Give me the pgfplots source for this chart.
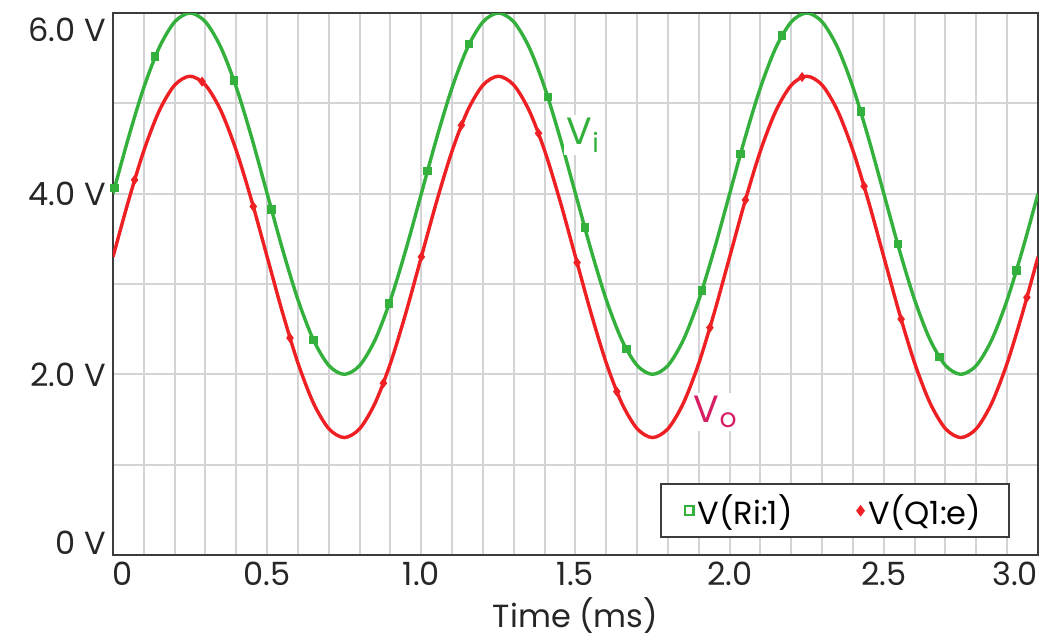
\documentclass[border=0pt]{standalone}
\usepackage{pgfplots}
\pgfplotsset{compat=1.18}
\usepackage{fontspec}
\setmainfont{Poppins}
\definecolor{cgreen}{RGB}{52,176,60}
\definecolor{cred}{RGB}{238,32,36}
\definecolor{cmag}{RGB}{214,30,100}
\definecolor{gridgray}{RGB}{212,212,214}
\definecolor{axisgray}{RGB}{60,60,60}
\begin{document}
\begin{tikzpicture}
\useasboundingbox (-56.5pt,-42pt) rectangle (474.5pt,277.5pt);
\begin{axis}[
  at={(0,0)}, anchor=south west,
  scale only axis, width=462.5pt, height=271pt,
  xmin=0, xmax=3, ymin=0, ymax=6,
  xtick={0,0.5,1,1.5,2,2.5,3},
  xticklabels={\makebox[0pt][l]{0},0.5,1.0,1.5,2.0,2.5,\makebox[0pt][r]{3.0}},
  minor xtick={0.1,0.2,0.3,0.4,0.6,0.7,0.8,0.9,1.1,1.2,1.3,1.4,1.6,1.7,1.8,1.9,2.1,2.2,2.3,2.4,2.6,2.7,2.8,2.9},
  ytick={0,2,4,6},
  yticklabels={\smash{\raisebox{0.5pt}{0 V}},2.0 V,4.0 V,\smash{\raisebox{-14pt}{6.0 V}}},
  minor ytick={1,3,5},
  grid=both,
  grid style={draw=gridgray, line width=1pt},
  minor grid style={draw=gridgray, line width=1pt},
  major grid style={draw=gridgray, line width=1pt},
  axis line style={draw=axisgray, line width=1.3pt},
  tick style={draw=none},
  /pgf/number format/assume math mode=true,
  ticklabel style={font=\fontsize{16}{18}\selectfont, text=black!85},
  xlabel={Time (ms)},
  xlabel style={font=\fontsize{16}{18}\selectfont, text=black!85, yshift=1pt},
  legend columns=2,
  legend style={at={(0.97,0.031)}, anchor=south east, draw=axisgray, line width=1pt,
    fill=white, font=\fontsize{16}{18}\selectfont, inner xsep=12pt, inner ysep=3pt,
    /tikz/every even column/.append style={column sep=30pt}},
  legend cell align=left,
]
% Vi curve
\addplot[cgreen, line width=1.7pt, smooth, forget plot] coordinates {
(0.00,4.000)(0.05,4.618)(0.10,5.176)(0.15,5.618)(0.20,5.902)(0.25,6.000)(0.30,5.902)(0.35,5.618)(0.40,5.176)(0.45,4.618)
(0.50,4.000)(0.55,3.382)(0.60,2.824)(0.65,2.382)(0.70,2.098)(0.75,2.000)(0.80,2.098)(0.85,2.382)(0.90,2.824)(0.95,3.382)
(1.00,4.000)(1.05,4.618)(1.10,5.176)(1.15,5.618)(1.20,5.902)(1.25,6.000)(1.30,5.902)(1.35,5.618)(1.40,5.176)(1.45,4.618)
(1.50,4.000)(1.55,3.382)(1.60,2.824)(1.65,2.382)(1.70,2.098)(1.75,2.000)(1.80,2.098)(1.85,2.382)(1.90,2.824)(1.95,3.382)
(2.00,4.000)(2.05,4.618)(2.10,5.176)(2.15,5.618)(2.20,5.902)(2.25,6.000)(2.30,5.902)(2.35,5.618)(2.40,5.176)(2.45,4.618)
(2.50,4.000)(2.55,3.382)(2.60,2.824)(2.65,2.382)(2.70,2.098)(2.75,2.000)(2.80,2.098)(2.85,2.382)(2.90,2.824)(2.95,3.382)
(3.00,4.000)};
% Vo curve
\addplot[cred, line width=1.7pt, smooth, forget plot] coordinates {
(0.00,3.300)(0.05,3.918)(0.10,4.476)(0.15,4.918)(0.20,5.202)(0.25,5.300)(0.30,5.202)(0.35,4.918)(0.40,4.476)(0.45,3.918)
(0.50,3.300)(0.55,2.682)(0.60,2.124)(0.65,1.682)(0.70,1.398)(0.75,1.300)(0.80,1.398)(0.85,1.682)(0.90,2.124)(0.95,2.682)
(1.00,3.300)(1.05,3.918)(1.10,4.476)(1.15,4.918)(1.20,5.202)(1.25,5.300)(1.30,5.202)(1.35,4.918)(1.40,4.476)(1.45,3.918)
(1.50,3.300)(1.55,2.682)(1.60,2.124)(1.65,1.682)(1.70,1.398)(1.75,1.300)(1.80,1.398)(1.85,1.682)(1.90,2.124)(1.95,2.682)
(2.00,3.300)(2.05,3.918)(2.10,4.476)(2.15,4.918)(2.20,5.202)(2.25,5.300)(2.30,5.202)(2.35,4.918)(2.40,4.476)(2.45,3.918)
(2.50,3.300)(2.55,2.682)(2.60,2.124)(2.65,1.682)(2.70,1.398)(2.75,1.300)(2.80,1.398)(2.85,1.682)(2.90,2.124)(2.95,2.682)
(3.00,3.300)};
% Vi markers
\addplot[only marks, mark=square*, mark size=1.8pt, mark options={draw=cgreen, fill=cgreen, line width=0.6pt},
  legend image post style={mark options={draw=cgreen, fill=white, line width=1.1pt}, mark size=2.2pt}] coordinates {
(0.005,4.063)(0.137,5.517)(0.392,5.255)(0.514,3.824)(0.650,2.382)(0.896,2.784)
(1.020,4.251)(1.155,5.654)(1.410,5.072)(1.530,3.625)(1.665,2.279)(1.910,2.928)
(2.035,4.436)(2.170,5.753)(2.425,4.908)(2.545,3.442)(2.680,2.190)(2.930,3.148)};
\addlegendentry{V(Ri:1)}
% Vo markers
\addplot[only marks, mark=diamond*, mark size=2.2pt, mark options={draw=cred, fill=cred, line width=0.4pt},
  legend image post style={mark options={draw=cred, fill=cred, line width=0.4pt}, mark size=2.6pt}] coordinates {
(0.070,4.152)(0.289,5.240)(0.455,3.858)(0.574,2.403)(0.877,1.903)
(1.000,3.300)(1.130,4.758)(1.380,4.669)(1.505,3.237)(1.634,1.809)(1.936,2.517)
(2.051,3.930)(2.235,5.291)(2.436,4.083)(2.556,2.611)(2.964,2.851)};
\addlegendentry{V(Q1:e)}
\node[text=cgreen, fill=white, inner sep=1.5pt, font=\fontsize{19}{21}\selectfont] at (axis cs:1.525,4.65) {V\textsubscript{i}};
\node[text=cmag, fill=white, inner sep=1.5pt, font=\fontsize{19}{21}\selectfont] at (axis cs:1.955,1.58) {V\textsubscript{o}};
\end{axis}
\end{tikzpicture}
\end{document}
